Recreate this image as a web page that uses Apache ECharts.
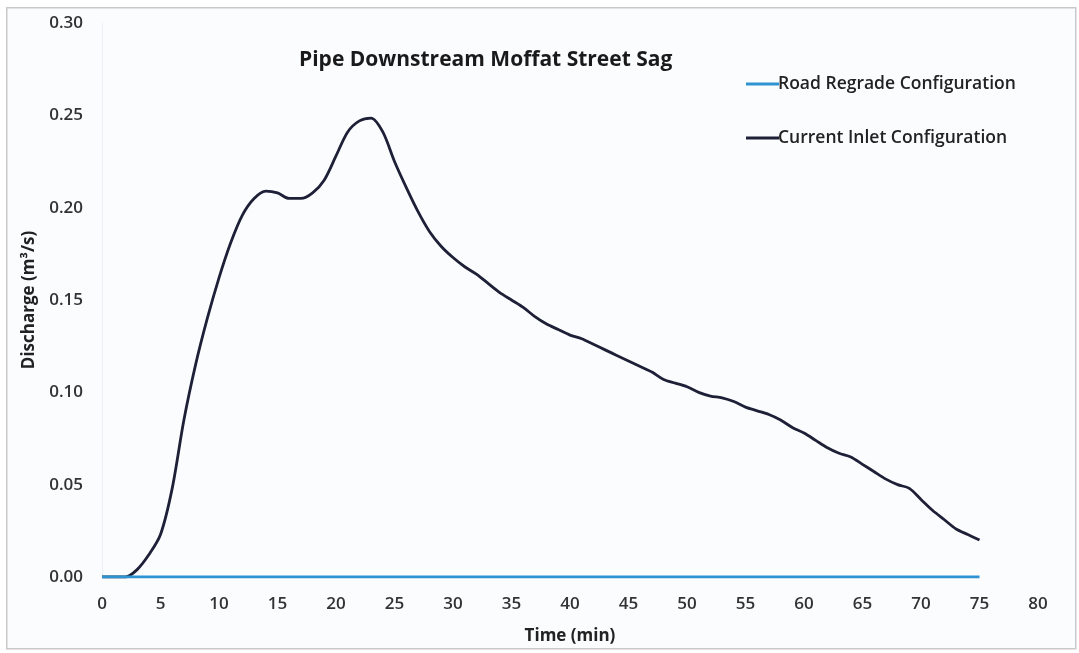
<!DOCTYPE html>
<html>
<head>
<meta charset="utf-8">
<script src="https://cdn.jsdelivr.net/npm/echarts@6/dist/echarts.min.js"></script>
<style>
  html, body { margin: 0; padding: 0; background: #ffffff; }
  #chart { width: 1079px; height: 653px; }
</style>
</head>
<body>
<div id="chart"></div>
<script>
// Time in minutes (one reading per minute)
const timeMin = [
  0, 1, 2, 3, 4, 5, 6, 7, 8, 9,
  10, 11, 12, 13, 14, 15, 16, 17, 18, 19,
  20, 21, 22, 23, 24, 25, 26, 27, 28, 29,
  30, 31, 32, 33, 34, 35, 36, 37, 38, 39,
  40, 41, 42, 43, 44, 45, 46, 47, 48, 49,
  50, 51, 52, 53, 54, 55, 56, 57, 58, 59,
  60, 61, 62, 63, 64, 65, 66, 67, 68, 69,
  70, 71, 72, 73, 74, 75
];

// Pipe discharge (m³/s) with the road regraded: nothing enters the pipe
const roadRegrade = [
  0, 0, 0, 0, 0, 0, 0, 0, 0, 0,
  0, 0, 0, 0, 0, 0, 0, 0, 0, 0,
  0, 0, 0, 0, 0, 0, 0, 0, 0, 0,
  0, 0, 0, 0, 0, 0, 0, 0, 0, 0,
  0, 0, 0, 0, 0, 0, 0, 0, 0, 0,
  0, 0, 0, 0, 0, 0, 0, 0, 0, 0,
  0, 0, 0, 0, 0, 0, 0, 0, 0, 0,
  0, 0, 0, 0, 0, 0
];

// Pipe discharge (m³/s) with the current inlet arrangement
const currentInlet = [
  0.000, 0.000, 0.000, 0.004, 0.012, 0.023, 0.048, 0.085, 0.115, 0.140,
  0.162, 0.181, 0.196, 0.205, 0.209, 0.208, 0.205, 0.205, 0.208, 0.215,
  0.228, 0.241, 0.247, 0.2485, 0.241, 0.225, 0.211, 0.198, 0.187, 0.179,
  0.173, 0.168, 0.164, 0.159, 0.154, 0.150, 0.146, 0.141, 0.137, 0.134,
  0.131, 0.129, 0.126, 0.123, 0.120, 0.117, 0.114, 0.111, 0.107, 0.105,
  0.103, 0.100, 0.098, 0.097, 0.095, 0.092, 0.090, 0.088, 0.085, 0.081,
  0.078, 0.074, 0.070, 0.067, 0.065, 0.061, 0.057, 0.053, 0.050, 0.048,
  0.042, 0.036, 0.031, 0.026, 0.023, 0.020
];

const seriesNames = ['Road Regrade Configuration', 'Current Inlet Configuration'];

const FONT = 'Open Sans';
const TEXT = '#222222';

const pairs = (ys) => timeMin.map((t, i) => [t, ys[i]]);

const chart = echarts.init(document.getElementById('chart'), null, { renderer: 'canvas' });

chart.setOption({
  backgroundColor: '#ffffff',
  animation: false,
  graphic: [{
    type: 'rect',
    left: 6, top: 7,
    shape: { width: 1069, height: 641 },
    style: { fill: '#fbfcfe', stroke: '#c9c9c9', lineWidth: 1.5 },
    z: -10
  }],
  title: {
    text: 'Pipe Downstream Moffat Street Sag',
    left: 294, top: 45,
    textStyle: { fontFamily: FONT, fontWeight: 'bold', fontSize: 21, color: '#1a1a1a' }
  },
  legend: {
    orient: 'vertical',
    left: 741, top: 70,
    itemGap: 36,
    itemWidth: 33, itemHeight: 3,
    icon: 'rect',
    textStyle: { fontFamily: FONT, fontWeight: 600, fontSize: 17.5, color: TEXT, padding: [0, 0, 0, -6] },
    data: seriesNames
  },
  grid: {
    left: 102, right: 41, top: 23, bottom: 76,
    containLabel: false,
    outerBoundsMode: 'none'
  },
  xAxis: {
    type: 'value',
    min: 0, max: 80, interval: 5,
    name: 'Time (min)',
    nameLocation: 'middle',
    nameGap: 51,
    nameTextStyle: { fontFamily: FONT, fontWeight: 'bold', fontSize: 17, color: TEXT },
    axisLine: { show: false },
    axisTick: { show: false },
    splitLine: { show: false },
    axisLabel: { fontFamily: FONT, fontWeight: 600, fontSize: 17, color: '#333333', margin: 19 }
  },
  yAxis: {
    type: 'value',
    min: 0, max: 0.3, interval: 0.05,
    name: 'Discharge (m³/s)',
    nameLocation: 'middle',
    nameRotate: 90,
    nameGap: 64,
    nameTextStyle: { fontFamily: FONT, fontWeight: 'bold', fontSize: 17, color: TEXT },
    axisLine: { show: true, lineStyle: { color: '#eef0f3', width: 1 } },
    axisTick: { show: false },
    splitLine: { show: false },
    axisLabel: {
      fontFamily: FONT, fontWeight: 600, fontSize: 17, color: '#333333', margin: 19,
      formatter: (v) => v.toFixed(2)
    }
  },
  series: [
    {
      name: seriesNames[0],
      type: 'line',
      data: pairs(roadRegrade),
      symbol: 'none',
      smooth: 0.3,
      lineStyle: { color: '#2f93d2', width: 3 },
      itemStyle: { color: '#2f93d2' },
      z: 3
    },
    {
      name: seriesNames[1],
      type: 'line',
      data: pairs(currentInlet),
      symbol: 'none',
      smooth: 0.3,
      lineStyle: { color: '#1d2036', width: 2.8 },
      itemStyle: { color: '#1d2036' },
      z: 2
    }
  ]
});
</script>
</body>
</html>
